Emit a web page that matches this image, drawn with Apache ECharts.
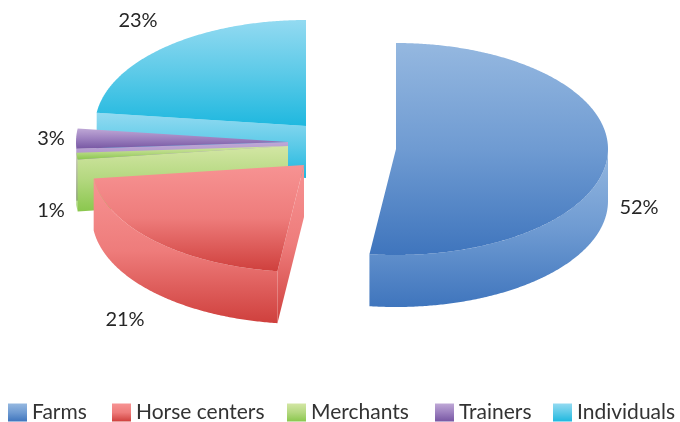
<!DOCTYPE html>
<html><head><meta charset="utf-8">
<style>html,body{margin:0;padding:0;background:#fff}#c{width:680px;height:422px}</style>
<script src="https://cdn.jsdelivr.net/npm/echarts@6/dist/echarts.min.js"></script>
</head><body><div id="c"></div>
<script>
const categories = ['Farms', 'Horse centers', 'Merchants', 'Trainers', 'Individuals'];
const shares = [52, 21, 1, 3, 23];

// Layout and style, per slice (exploded pie drawn in a tilted projection)
const centers = [[396,149,212,106],[304,165,212,107],[288,146,212,108],[288,142,212,108],[306,126,211,106]];
const labelAt = [[639,208],[125,320],[51,211],[51,139],[138,21]];
const legendLeft = [8,112,287,435,553];
const depth = 52;
const ramps = [
  ['#95b8e0','#6f9bd2','#3f75bd'],['#f79393','#ee7c7b','#cf403d'],['#d3e6a4','#b4d880','#8ac74e'],['#bfa8d6','#9c80bf','#7757a3'],['#93daf1','#5ccae8','#1fb8df']
];
const grad = c => ({type:'linear',x:0,y:0,x2:0,y2:1,colorStops:[{offset:0,color:c[0]},{offset:0.5,color:c[1]},{offset:1,color:c[2]}]});
const rad = d => d*Math.PI/180;

function sliceItem(i){
  return function(params, api){
    const val = api.value(0);
    let before = 0;
    for (let k=0;k<i;k++) before += shares[k];
    const total = shares.reduce((a,b)=>a+b,0);
    const a0 = before/total*360, a1 = (before+val)/total*360;
    const [cx,cy,rx,ry] = centers[i];
    const pt = (a,dy) => [cx+rx*Math.sin(rad(a)), cy-ry*Math.cos(rad(a))+(dy||0)];
    const arc = (s,e,dy) => { const o=[]; const n=Math.max(2,Math.ceil((e-s)*2)); for(let j=0;j<=n;j++) o.push(pt(s+(e-s)*j/n,dy)); return o; };
    const fill = grad(ramps[i]);
    const kids = [];
    // cut face at the slice's starting edge
    kids.push({type:'polygon',shape:{points:[[cx,cy],pt(a0),pt(a0,depth),[cx,cy+depth]]},style:{fill}});
    // outer rim on the front half of the ellipse
    const s = Math.max(a0,90), e = Math.min(a1,270);
    if (e > s) {
      kids.push({type:'polygon',shape:{points:arc(s,e,0).concat(arc(s,e,depth).reverse())},style:{fill}});
    }
    // top face
    kids.push({type:'polygon',shape:{points:[[cx,cy]].concat(arc(a0,a1,0))},style:{fill}});
    kids.push({type:'text',style:{x:labelAt[i][0],y:labelAt[i][1],text:val+'%',fill:'#262626',font:'20px Lato',align:'center',verticalAlign:'middle'}});
    return {type:'group',children:kids};
  };
}

const chart = echarts.init(document.getElementById('c'),null,{renderer:'canvas'});
chart.setOption({
  animation:false,
  backgroundColor:'#fff',
  legend:categories.map((name,i)=>({
    data:[name], left:legendLeft[i], top:402, padding:0, icon:'rect', itemWidth:19, itemHeight:18, itemGap:0,
    textStyle:{fontFamily:'Lato',fontSize:21,color:'#333'},
    selectedMode:false
  })),
  series:categories.map((name,i)=>({
    type:'custom', name, coordinateSystem:'none', z:10-i,
    itemStyle:{color:grad(ramps[i])},
    renderItem:sliceItem(i),
    data:[[shares[i]]],
    silent:true
  }))
});
</script></body></html>
